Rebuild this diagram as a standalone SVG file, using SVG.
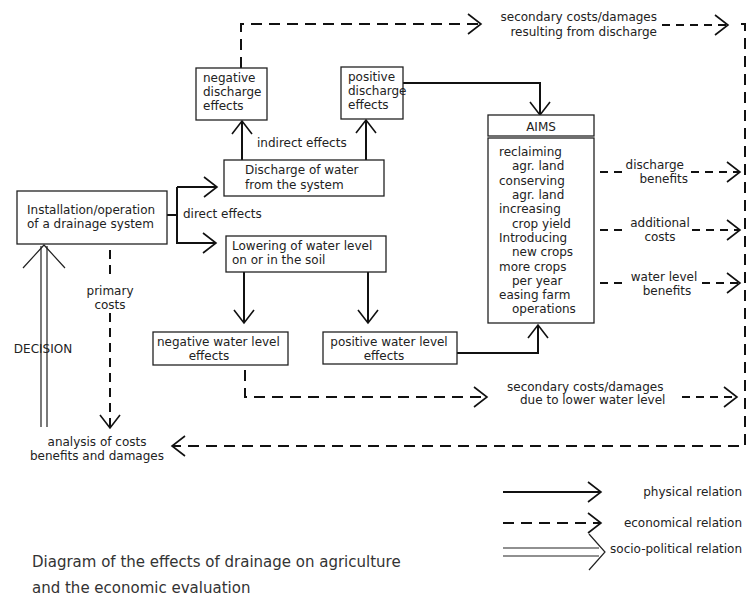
<svg xmlns="http://www.w3.org/2000/svg" width="748" height="598" viewBox="0 0 748 598">
<style>
text{font-family:"DejaVu Sans","Liberation Sans",sans-serif;font-size:12px;fill:#222}
.box{fill:#fff;stroke:#222;stroke-width:1.3}
.ln{fill:none;stroke:#111;stroke-width:2}
.ds{fill:none;stroke:#111;stroke-width:2;stroke-dasharray:11 7}
.ds2{fill:none;stroke:#111;stroke-width:2;stroke-dasharray:8 6}
.thin{fill:none;stroke:#222;stroke-width:1.2}
.mid{text-anchor:middle}
.end{text-anchor:end}
.title{font-size:15px;fill:#333}
</style>
<defs>
<marker id="ah" markerUnits="userSpaceOnUse" markerWidth="20" markerHeight="26" viewBox="0 0 20 26" refX="16" refY="13" orient="auto">
<path d="M3,3 L16,13 L3,23" fill="none" stroke="#111" stroke-width="1.6"/>
</marker>
</defs>
<rect width="748" height="598" fill="#fff"/>

<g id="connectors">
<path class="ln" d="M167,215 H177 M177,187 V244"/>
<path class="ln" d="M177,187 H217" marker-end="url(#ah)"/>
<path class="ln" d="M177,243 H216" marker-end="url(#ah)"/>
<path class="ln" d="M242,160 V121" marker-end="url(#ah)"/>
<path class="ln" d="M366,160 V120" marker-end="url(#ah)"/>
<path class="ln" d="M244,272 V323" marker-end="url(#ah)"/>
<path class="ln" d="M368,272 V323" marker-end="url(#ah)"/>
<path class="ln" d="M403,83 H540 V115" marker-end="url(#ah)"/>
<path class="ln" d="M457,353 H538 V325" marker-end="url(#ah)"/>
<path class="ds" d="M241,68 V24 H481" marker-end="url(#ah)"/>
<path class="ds2" d="M662,25 H728" marker-end="url(#ah)"/>
<path class="ds" d="M741,24 H745 V446 H172" marker-end="url(#ah)"/>
<path class="ds2" d="M600,172 H626"/>
<path class="ds2" d="M691,172 H740" marker-end="url(#ah)"/>
<path class="ds2" d="M600,230 H626"/>
<path class="ds2" d="M692,230 H740" marker-end="url(#ah)"/>
<path class="ds2" d="M600,283 H626"/>
<path class="ds2" d="M702,283 H740" marker-end="url(#ah)"/>
<path class="ds" d="M245,370 V397 H487" marker-end="url(#ah)"/>
<path class="ds2" d="M682,397 H737" marker-end="url(#ah)"/>
<path class="ln" d="M110,250 V275" stroke-dasharray="9 6"/>
<path class="ln" d="M110,313 V428" stroke-dasharray="9 6" marker-end="url(#ah)"/>
<path class="thin" d="M41,427 V340 M41,359 V246 M47,427 V340 M47,359 V246"/>
<path class="thin" d="M23,268 L44,245 L65,268"/>
</g>

<g id="n-install">
<rect class="box" x="17" y="191" width="150" height="53"/>
<text x="27" y="214">Installation/operation</text>
<text x="27" y="228">of a drainage system</text>
</g>
<g id="l-direct"><text x="183" y="218">direct effects</text></g>
<g id="n-discharge">
<rect class="box" x="224" y="160" width="160" height="36"/>
<text x="245" y="174">Discharge of water</text>
<text x="245" y="189">from the system</text>
</g>
<g id="l-indirect"><text x="257" y="147">indirect effects</text></g>
<g id="n-lowering">
<rect class="box" x="226" y="236" width="160" height="36"/>
<text x="232" y="250">Lowering of water level</text>
<text x="232" y="264">on or in the soil</text>
</g>
<g id="n-negdis">
<rect class="box" x="196" y="68" width="71" height="52"/>
<text x="203" y="82">negative</text>
<text x="203" y="96">discharge</text>
<text x="203" y="110">effects</text>
</g>
<g id="n-posdis">
<rect class="box" x="341" y="67" width="62" height="52"/>
<text x="348" y="81">positive</text>
<text x="348" y="95">discharge</text>
<text x="348" y="109">effects</text>
</g>
<g id="n-aims">
<rect class="box" x="488" y="115" width="106" height="21"/>
<text class="mid" x="541" y="131">AIMS</text>
<rect class="box" x="488" y="138" width="106" height="185"/>
<text x="499" y="156">reclaiming</text>
<text x="512" y="170">agr. land</text>
<text x="499" y="185">conserving</text>
<text x="512" y="199">agr. land</text>
<text x="499" y="213">increasing</text>
<text x="512" y="228">crop yield</text>
<text x="499" y="242">Introducing</text>
<text x="512" y="256">new crops</text>
<text x="499" y="271">more crops</text>
<text x="512" y="285">per year</text>
<text x="499" y="299">easing farm</text>
<text x="512" y="313">operations</text>
</g>
<g id="l-dis-benefits">
<text class="end" x="684" y="169">discharge</text>
<text class="end" x="688" y="183">benefits</text>
</g>
<g id="l-add-costs">
<text class="mid" x="660" y="227">additional</text>
<text class="mid" x="660" y="241">costs</text>
</g>
<g id="l-wl-benefits">
<text class="mid" x="664" y="281">water level</text>
<text class="mid" x="667" y="295">benefits</text>
</g>
<g id="l-sec-dis">
<text class="end" x="657" y="21">secondary costs/damages</text>
<text class="end" x="657" y="36">resulting from discharge</text>
</g>
<g id="n-negwl">
<rect class="box" x="153" y="332" width="135" height="33"/>
<text x="157" y="346">negative water level</text>
<text class="mid" x="209" y="360">effects</text>
</g>
<g id="n-poswl">
<rect class="box" x="323" y="332" width="134" height="32"/>
<text class="mid" x="389" y="346">positive water level</text>
<text class="mid" x="384" y="360">effects</text>
</g>
<g id="l-sec-wl">
<text x="507" y="391">secondary costs/damages</text>
<text x="520" y="404">due to lower water level</text>
</g>
<g id="l-primary">
<text class="mid" x="110" y="295">primary</text>
<text class="mid" x="110" y="309">costs</text>
</g>
<g id="l-decision"><text class="mid" x="43" y="353">DECISION</text></g>
<g id="n-analysis">
<text class="mid" x="97" y="446">analysis of costs</text>
<text class="mid" x="97" y="460">benefits and damages</text>
</g>

<g id="legend">
<path class="ln" d="M503,492 H601" marker-end="url(#ah)"/>
<text class="end" x="742" y="496">physical relation</text>
<path class="ds" d="M503,523 H601" marker-end="url(#ah)"/>
<text class="end" x="742" y="527">economical relation</text>
<path class="thin" d="M503,548 H599 M503,556 H599"/>
<path class="thin" d="M589,534 L605,552 L589,570"/>
<text class="end" x="742" y="553">socio-political relation</text>
</g>
<g id="title">
<text class="title" x="32" y="567">Diagram of the effects of drainage on agriculture</text>
<text class="title" x="32" y="593">and the economic evaluation</text>
</g>
</svg>
